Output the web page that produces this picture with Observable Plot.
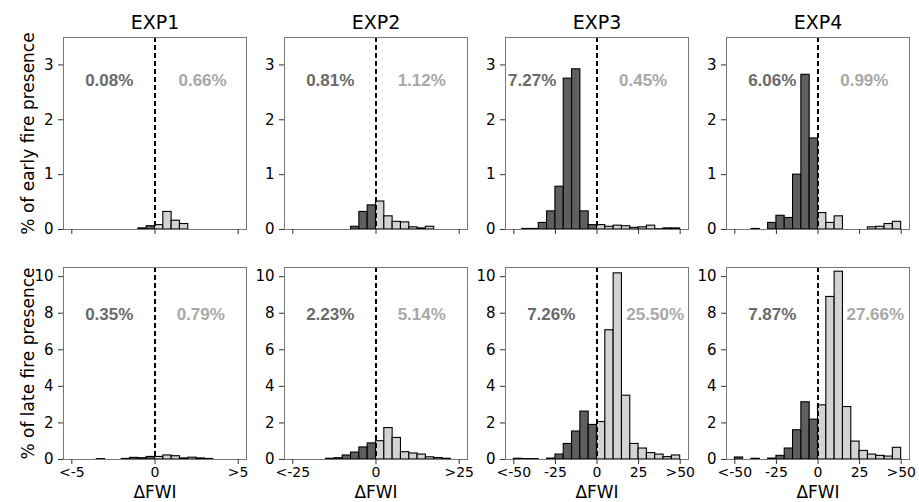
<!DOCTYPE html>
<html><head><meta charset="utf-8">
<script src="https://cdn.jsdelivr.net/npm/d3@7"></script>
<script src="https://cdn.jsdelivr.net/npm/@observablehq/plot@0.6"></script>
<style>
html,body{margin:0;padding:0;background:#fff;}
#chart{position:relative;width:919px;height:502px;overflow:hidden;font-family:"DejaVu Sans";}
#chart svg{position:absolute;}
</style></head><body><div id="chart"></div>
<script>
// ---------- data ----------
const experiments = ["EXP1", "EXP2", "EXP3", "EXP4"];
const rowLabels = ["% of early fire presence", "% of late fire presence"];
const xLabel = "ΔFWI";
const xLimits = [5, 25, 50, 50];               // histogram range is [-limit, limit], 20 bins
const xTicks = [[-5, 0, 5], [-25, 0, 25], [-50, -25, 0, 25, 50], [-50, -25, 0, 25, 50]];
const yTicksEarly = [0, 1, 2, 3];
const yTicksLate = [0, 2, 4, 6, 8, 10];

// % of fire presence per bin (20 bins, left to right)
const early_EXP1 = [0,0,0,0,0,0,0,0,0.02,0.06, 0.08,0.32,0.16,0.10,0,0,0,0,0,0];
const early_EXP2 = [0,0,0,0,0,0,0,0.05,0.32,0.44, 0.51,0.24,0.14,0.13,0.04,0.02,0.05,0,0,0];
const early_EXP3 = [0,0.01,0.01,0.12,0.33,0.78,2.75,2.92,0.33,0.08, 0.08,0.05,0.07,0.06,0.03,0.04,0.07,0.005,0.02,0.02];
const early_EXP4 = [0,0,0.01,0,0.12,0.25,0.21,1.0,2.82,1.66, 0.30,0.12,0.24,0,0,0,0.04,0.05,0.10,0.14];
const late_EXP1 = [0,0,0,0.02,0,0,0.03,0.09,0.07,0.14, 0.14,0.22,0.18,0.06,0.10,0.06,0.03,0,0,0];
const late_EXP2 = [0,0,0,0,0.04,0.07,0.22,0.38,0.66,0.88, 1.0,1.72,1.18,0.40,0.33,0.27,0.12,0.08,0.04,0];
const late_EXP3 = [0.04,0.02,0.02,0,0.05,0.27,0.85,1.53,2.62,1.89, 2.05,7.07,10.18,3.49,0.85,0.60,0.35,0.27,0.13,0.22];
const late_EXP4 = [0.11,0,0.04,0,0.05,0.20,0.60,1.60,3.13,2.18, 2.96,8.89,10.27,2.87,0.98,0.47,0.27,0.20,0.16,0.64];

const earlyNegPct = ["0.08%", "0.81%", "7.27%", "6.06%"];
const earlyPosPct = ["0.66%", "1.12%", "0.45%", "0.99%"];
const lateNegPct = ["0.35%", "2.23%", "7.26%", "7.87%"];
const latePosPct = ["0.79%", "5.14%", "25.50%", "27.66%"];

// ---------- layout / style ----------
const early = [early_EXP1, early_EXP2, early_EXP3, early_EXP4];
const late = [late_EXP1, late_EXP2, late_EXP3, late_EXP4];
const frameW = 183, frameH = 192;
const colLeft = [63, 284, 505, 726];
const rowTop = [37, 267];
const yMax = [3.5, 10.5];
const M = {l: 50, r: 22, t: 32, b: 43};
const negFrac = [[0.25, 0.25, 0.146, 0.25], [0.25, 0.25, 0.25, 0.25]];
const posFrac = [[0.76, 0.75, 0.752, 0.753], [0.75, 0.75, 0.818, 0.813]];
const textYFrac = [0.777, 0.753];
const darkFill = "#5f5f5f", lightFill = "#d3d3d3";
const darkText = "#6a6a6a", lightText = "#a8a8a8";

const chart = document.getElementById("chart");

function panel(row, col) {
  const L = xLimits[col];
  const w = 2 * L / 20;
  const vals = (row === 0 ? early : late)[col];
  const bins = vals.map((v, i) => ({x1: -L + i * w, x2: -L + (i + 1) * w, v, neg: (-L + i * w) < 0}))
                   .filter(d => d.v > 0);
  const dom = [-L * 1.1, L * 1.1];
  const span = dom[1] - dom[0];
  const ty = textYFrac[row] * yMax[row];
  const negLabel = (row === 0 ? earlyNegPct : lateNegPct)[col];
  const posLabel = (row === 0 ? earlyPosPct : latePosPct)[col];
  const marks = [
    Plot.rectY(bins, {x1: "x1", x2: "x2", y: "v", fill: d => d.neg ? darkFill : lightFill, stroke: "black", strokeWidth: 1.1}),
    Plot.ruleX([0], {stroke: "black", strokeWidth: 2, strokeDasharray: "5,3"}),
    Plot.text([negLabel], {x: dom[0] + negFrac[row][col] * span, y: ty, fill: darkText, fontWeight: "bold", fontSize: 17, fontFamily: "Liberation Sans"}),
    Plot.text([posLabel], {x: dom[0] + posFrac[row][col] * span, y: ty, fill: lightText, fontWeight: "bold", fontSize: 17, fontFamily: "Liberation Sans"}),
    Plot.frame({stroke: "#777", strokeWidth: 1}),
    Plot.axisY({ticks: row === 0 ? yTicksEarly : yTicksLate, tickSize: 5, tickPadding: 5, label: null, stroke: "#333", fill: "black",
      fontSize: 15, tickFormat: d => String(d)}),
    Plot.axisX({ticks: xTicks[col], tickSize: 5, tickPadding: 3, label: null, stroke: "#333", fill: "black", fontSize: 14,
      tickFormat: row === 0 ? (() => "") : (d => d === -L ? "<" + String(-L) : d === L ? ">" + String(L) : String(d))})
  ];
  if (row === 0) marks.push(Plot.text([experiments[col]], {frameAnchor: "top", lineAnchor: "middle", textAnchor: "middle", dy: -15, fontSize: 19, fill: "black"}));
  if (row === 1) marks.push(Plot.text([xLabel], {frameAnchor: "bottom", lineAnchor: "middle", textAnchor: "middle", dy: 33, fontSize: 17, fill: "black"}));
  if (col === 0) marks.push(Plot.text([rowLabels[row]], {frameAnchor: "left", textAnchor: "middle", lineAnchor: "middle", dx: -35, rotate: -90, fontSize: 17, fill: "black"}));

  const svg = Plot.plot({
    width: M.l + frameW + M.r,
    height: M.t + frameH + M.b,
    marginLeft: M.l, marginRight: M.r, marginTop: M.t, marginBottom: M.b,
    x: {domain: dom, label: null},
    y: {domain: [0, yMax[row]], label: null},
    style: {fontSize: "15px", fontFamily: "DejaVu Sans", background: "transparent", overflow: "visible", color: "black"},
    marks
  });
  svg.style.left = (colLeft[col] - M.l) + "px";
  svg.style.top = (rowTop[row] - M.t) + "px";
  svg.style.maxWidth = "none";
  chart.appendChild(svg);
}

for (let r = 0; r < 2; r++) for (let c = 0; c < 4; c++) panel(r, c);
</script></body></html>
